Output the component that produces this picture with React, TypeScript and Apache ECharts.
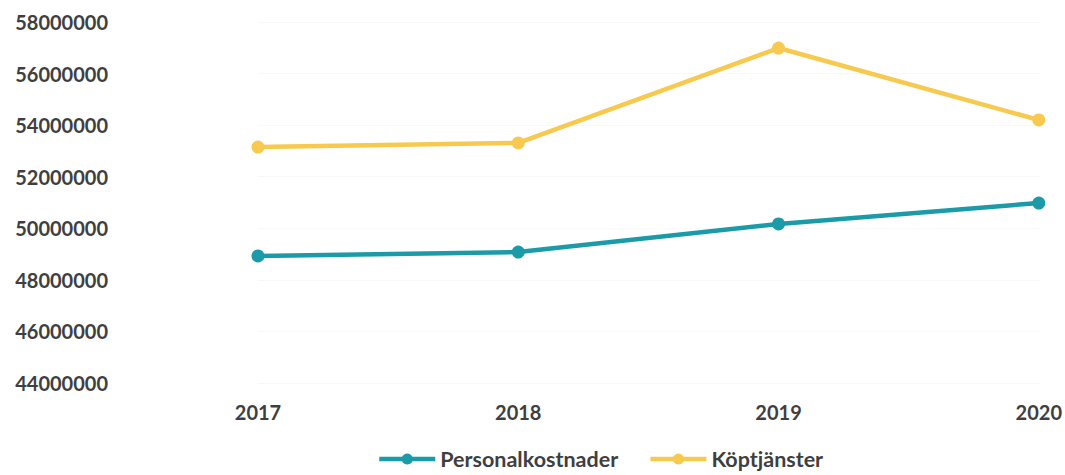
import React, { useEffect, useRef } from "react";
import * as echarts from "echarts";

const categories = ["2017", "2018", "2019", "2020"];
const personalkostnader = [48930000, 49080000, 50170000, 50980000];
const kopTjanster = [53150000, 53310000, 56990000, 54200000];
const yMin = 44000000;
const yMax = 58000000;
const yInterval = 2000000;

const FONT = "Lato";
const TEXT = "#3f3f3f";

export default function App() {
  const ref = useRef<HTMLDivElement>(null);
  useEffect(() => {
    if (!ref.current) return;
    const chart = echarts.init(ref.current, undefined, { renderer: "svg" });
    chart.setOption({
      animation: false,
      backgroundColor: "#ffffff",
      grid: { left: 258, right: 24, top: 22, bottom: 92, containLabel: false },
      legend: {
        bottom: 0,
        left: 372,
        itemWidth: 56,
        itemHeight: 14,
        itemGap: 30,
        lineStyle: { width: 4.5 },
        textStyle: { fontFamily: FONT, fontWeight: "bold", fontSize: 21.5, color: TEXT },
        data: ["Personalkostnader", "Köptjänster"],
      },
      xAxis: {
        type: "category",
        data: categories,
        boundaryGap: false,
        axisLine: { show: false },
        axisTick: { show: false },
        axisLabel: {
          margin: 19,
          fontFamily: FONT,
          fontWeight: "bold",
          fontSize: 20,
          color: TEXT,
        },
      },
      yAxis: {
        type: "value",
        min: yMin,
        max: yMax,
        interval: yInterval,
        axisLine: { show: false },
        axisTick: { show: false },
        splitLine: { show: true, lineStyle: { color: "#f8f8f8", width: 1 } },
        axisLabel: {
          margin: 150,
          fontFamily: FONT,
          fontWeight: "bold",
          fontSize: 20,
          color: TEXT,
          formatter: (v: number) => String(v),
        },
      },
      series: [
        {
          name: "Personalkostnader",
          type: "line",
          data: personalkostnader,
          symbol: "circle",
          symbolSize: 13,
          lineStyle: { width: 4.5, color: "#1b9aa8" },
          itemStyle: { color: "#1b9aa8" },
        },
        {
          name: "Köptjänster",
          type: "line",
          data: kopTjanster,
          symbol: "circle",
          symbolSize: 13,
          lineStyle: { width: 4.5, color: "#f7c94f" },
          itemStyle: { color: "#f7c94f" },
        },
      ],
    });
    return () => chart.dispose();
  }, []);
  return (
    <div
      ref={ref}
      style={{ position: "fixed", left: 0, top: 0, width: 1065, height: 475 }}
    />
  );
}
